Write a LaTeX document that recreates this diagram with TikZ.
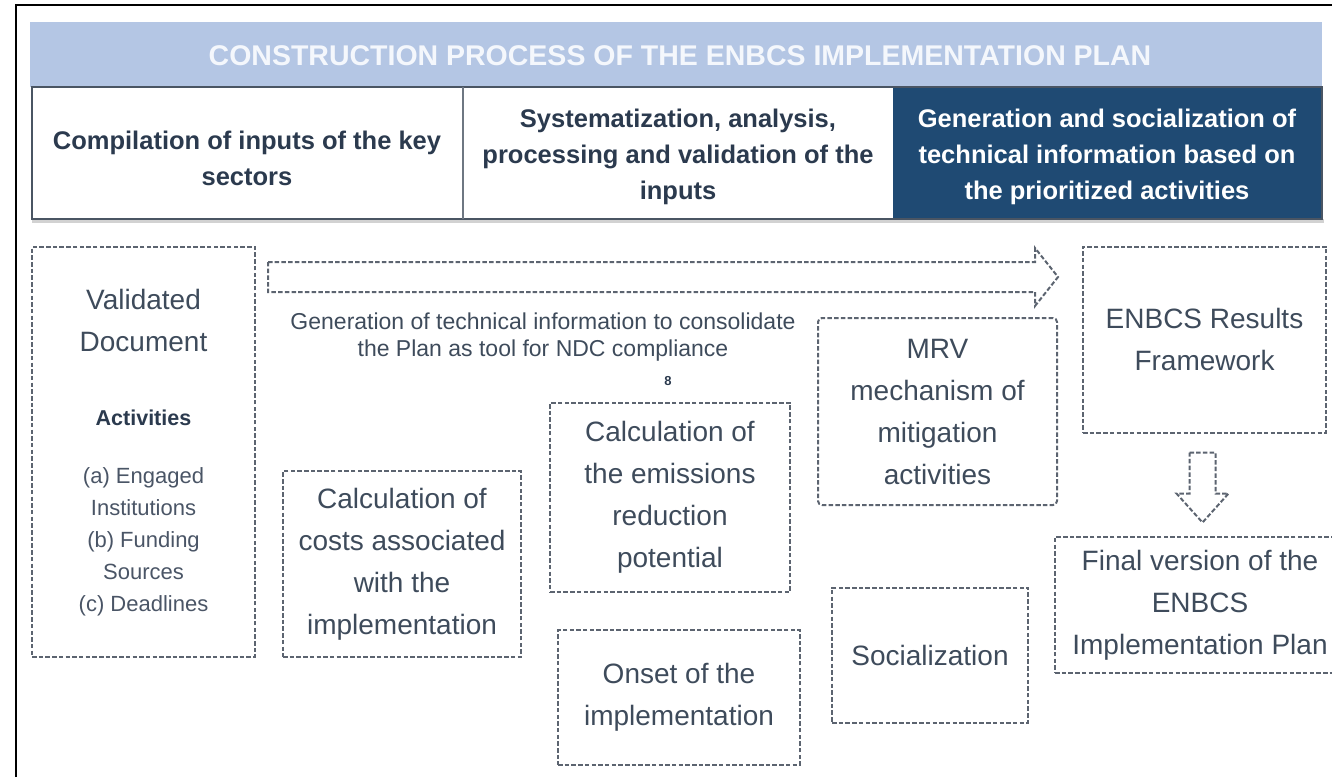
\documentclass[tikz,border=0pt]{standalone}
\usepackage{fontspec}
\setmainfont{Liberation Sans}
\usetikzlibrary{calc}
\definecolor{bandblue}{HTML}{B4C6E4}
\definecolor{titletext}{HTML}{F4F7FC}
\definecolor{rowline}{HTML}{4A5563}
\definecolor{darkcell}{HTML}{1F4A73}
\definecolor{rowtext}{HTML}{2B3A4E}
\definecolor{boxline}{HTML}{5C6470}
\definecolor{boxtext}{HTML}{3E4B5B}
\definecolor{listtext}{HTML}{4A5566}
\begin{document}
\begin{tikzpicture}[x=1pt,y=-1pt,
  dbox/.style={draw=boxline, dash pattern=on 4.5pt off 2.2pt, line width=2pt,
    align=center, text=boxtext, font=\fontsize{28}{42}\selectfont, inner sep=0pt},
  dline/.style={draw=boxline, dash pattern=on 4.5pt off 2.2pt, line width=2pt, line join=miter},
  celltext/.style={align=center, font=\fontsize{25.5}{36}\selectfont\bfseries, text=rowtext, inner sep=0pt},
  plaintext/.style={align=center, text=boxtext, inner sep=0pt},
]
\useasboundingbox (0,0) rectangle (1332,777);
\clip (0,0) rectangle (1332,777);
% frame
\draw[line width=1.2pt, black] (16,777) -- (16,5) -- (1332,5);
% header band
\fill[bandblue] (30,22) rectangle (1322,87);
\node[font=\fontsize{28.5}{34}\selectfont\bfseries, text=titletext, inner sep=0pt] (title) at (680,56) {CONSTRUCTION PROCESS OF THE ENBCS IMPLEMENTATION PLAN};
% row cells
\fill[gray!35] (32,219) rectangle (1324,223);
\fill[darkcell] (893,87) rectangle (1322,219);
\draw[rowline, line width=1.6pt] (32,87) rectangle (1322,219);
\draw[rowline!80, line width=1.4pt] (463,87) -- (463,219);
\node[celltext] (c1) at (247,158) {Compilation of inputs of the key\\sectors};
\node[celltext] (c2) at (678,157) {Systematization, analysis,\\processing and validation of the\\inputs};
\node[celltext, text=white] (c3) at (1107,157) {Generation and socialization of\\technical information based on\\the prioritized activities};
% validated document box
\node[dbox, minimum width=223pt, minimum height=410pt] (valid) at (143.5,452) {};
\node[plaintext, font=\fontsize{28}{42}\selectfont] (vd) at (143.5,320) {Validated\\Document};
\node[plaintext, font=\fontsize{21.5}{26}\selectfont\bfseries, text=rowtext] (act) at (143.5,418) {Activities};
\node[plaintext, font=\fontsize{22}{32}\selectfont, text=listtext] (list) at (143.5,542) {(a) Engaged\\Institutions\\(b) Funding\\Sources\\(c) Deadlines};
% big dashed arrow
\coordinate (aA) at (268,262);
\coordinate (aB) at (1035,262);
\coordinate (aC) at (1035,248);
\coordinate (aT) at (1058,277);
\coordinate (aD) at (1035,306);
\coordinate (aE) at (1035,292);
\coordinate (aF) at (268,292);
\draw[dline] (aA) -- (aB) -- (aC) -- (aT) -- (aD) -- (aE) -- (aF) -- cycle;
\node[plaintext, font=\fontsize{23}{27}\selectfont] (cap) at (543,337) {Generation of technical information to consolidate\\the Plan as tool for NDC compliance};
\node[plaintext, font=\fontsize{13}{15}\selectfont\bfseries, text=rowtext] (eight) at (668,381) {8};
% boxes
\node[dbox, minimum width=238pt, minimum height=186pt] (costs) at (402,564) {Calculation of\\costs associated\\with the\\implementation};
\node[dbox, minimum width=240pt, minimum height=189pt] (emis) at (670,497.5) {Calculation of\\the emissions\\reduction\\potential};
\node[dbox, minimum width=242pt, minimum height=135pt] (onset) at (679,697.5) {Onset of the\\implementation};
\node[dbox, minimum width=239pt, minimum height=187pt, rounded corners=4pt] (mrv) at (937.5,411.5) {MRV\\mechanism of\\mitigation\\activities};
\node[dbox, minimum width=196pt, minimum height=135pt] (soc) at (930,655) {Socialization};
\node[dbox, minimum width=243pt, minimum height=186pt] (res) at (1204.5,339.5) {ENBCS Results\\Framework};
\node[dbox, minimum width=290pt, minimum height=136pt] (final) at (1200,605) {Final version of the\\ENBCS\\Implementation Plan};
% down dashed arrow
\coordinate (dTop) at ($(res.south)+(-2,19)$);
\draw[dline] ($(dTop)+(-13,0)$) -- ($(dTop)+(13,0)$) -- ($(dTop)+(13,41)$) -- ($(dTop)+(26,41)$)
  -- ($(dTop)+(0,70)$) -- ($(dTop)+(-26,41)$) -- ($(dTop)+(-13,41)$) -- cycle;
\end{tikzpicture}
\end{document}
